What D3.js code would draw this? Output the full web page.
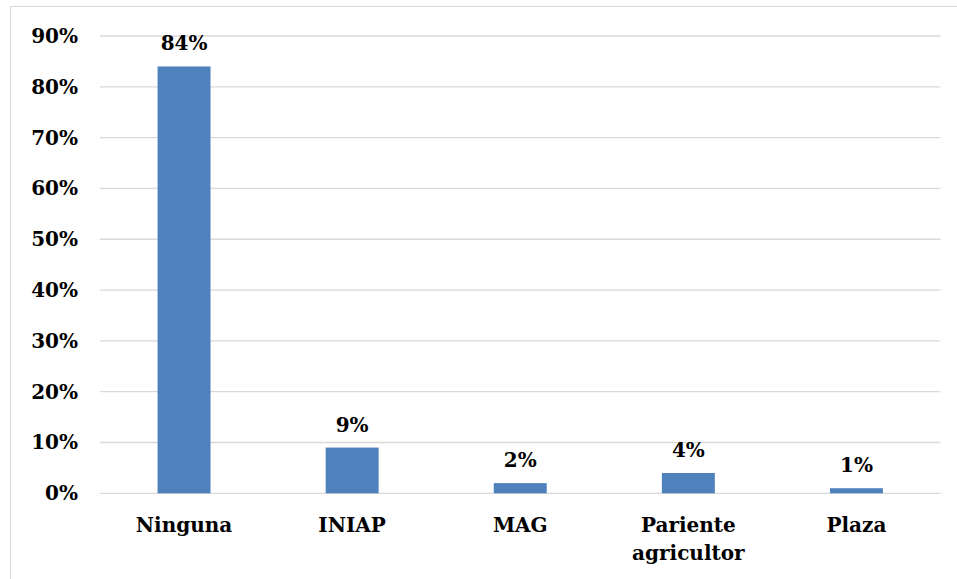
<!DOCTYPE html>
<html>
<head>
<meta charset="utf-8">
<script src="https://cdn.jsdelivr.net/npm/d3@7"></script>
<style>
  html, body { margin: 0; padding: 0; background: #fff; }
  svg { display: block; }
  text { font-family: "DejaVu Serif", serif; font-weight: bold; fill: #000; }
</style>
</head>
<body>
<svg id="chart" width="957" height="579"></svg>
<script>
const categories = ["Ninguna", "INIAP", "MAG", "Pariente agricultor", "Plaza"];
const values = [0.84, 0.09, 0.02, 0.04, 0.01];
const valueLabels = ["84%", "9%", "2%", "4%", "1%"];
const yTicks = [0, 0.1, 0.2, 0.3, 0.4, 0.5, 0.6, 0.7, 0.8, 0.9];

const svg = d3.select("#chart");
const W = 957, H = 579;
const plot = { left: 100, right: 940.5, top: 36, bottom: 493.3 };
const fontSize = 20;

// outer frame
svg.append("rect")
  .attr("x", 10.5).attr("y", 6.5)
  .attr("width", W + 20).attr("height", H + 20)
  .attr("fill", "none").attr("stroke", "#d9d9d9").attr("stroke-width", 1);

const x = d3.scaleBand().domain(categories).range([plot.left, plot.right]).padding(0);
const y = d3.scaleLinear().domain([0, 0.9]).range([plot.bottom, plot.top]);

// gridlines
svg.append("g").selectAll("line").data(yTicks).join("line")
  .attr("x1", plot.left).attr("x2", plot.right)
  .attr("y1", d => y(d)).attr("y2", d => y(d))
  .attr("stroke", "#d9d9d9").attr("stroke-width", 1.3);

// y axis labels
const yAxis = d3.axisLeft(y).tickValues(yTicks).tickFormat(d3.format(".0%")).tickSize(0).tickPadding(22);
const gy = svg.append("g").attr("transform", `translate(${plot.left},0)`).call(yAxis);
gy.select(".domain").remove();
gy.selectAll("text").style("font-family", '"DejaVu Serif", serif').style("font-weight", "bold")
  .style("font-size", fontSize + "px").attr("fill", "#000");

// bars
const barW = x.bandwidth() * 0.315;
svg.append("g").selectAll("rect").data(categories).join("rect")
  .attr("x", (d) => x(d) + x.bandwidth() / 2 - barW / 2)
  .attr("width", barW)
  .attr("y", (d, i) => y(values[i]))
  .attr("height", (d, i) => y(0) - y(values[i]))
  .attr("fill", "#4f81bd");

// value labels
svg.append("g").selectAll("text").data(categories).join("text")
  .attr("x", d => x(d) + x.bandwidth() / 2)
  .attr("y", (d, i) => y(values[i]) - 16)
  .attr("text-anchor", "middle")
  .style("font-size", fontSize + "px")
  .text((d, i) => valueLabels[i]);

// category labels
const catG = svg.append("g").selectAll("text").data(categories).join("text")
  .attr("x", d => x(d) + x.bandwidth() / 2)
  .attr("y", plot.bottom + 38.5)
  .attr("text-anchor", "middle")
  .style("font-size", fontSize + "px");
catG.each(function(d) {
  const words = d.split(" ");
  const t = d3.select(this);
  words.forEach((w, k) => {
    t.append("tspan").attr("x", x(d) + x.bandwidth() / 2).attr("dy", k === 0 ? 0 : 28.5).text(w);
  });
});
</script>
</body>
</html>
